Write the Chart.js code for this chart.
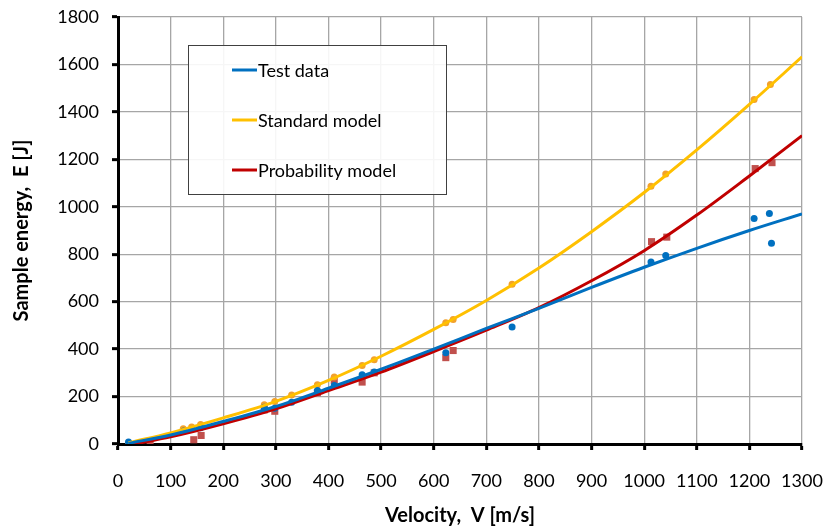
<!DOCTYPE html>
<html>
<head>
<meta charset="utf-8">
<script src="https://cdn.jsdelivr.net/npm/chart.js@4.4.1/dist/chart.umd.min.js"></script>
<style>
  body { margin: 0; background: #fff; }
  canvas { display: block; }
</style>
</head>
<body>
<canvas id="energyChart" width="829" height="528"></canvas>
<script>
/* global Chart */

const seriesNames = ["Test data", "Standard model", "Probability model"];
const seriesColors = ["#0070C0", "#FFC000", "#C00000"];
const pointColors = ["#0070C0", "#F2A12E", "#C0504D"];

// fitted curves
const testFitV = [20, 100, 200, 300, 400, 500, 600, 700, 800, 900, 1000, 1100, 1200, 1300];
const testFitE = [3, 38, 95, 158, 235, 315, 400, 487, 572, 660, 745, 825, 900, 970];
const stdFitV = [20, 100, 200, 300, 400, 500, 600, 700, 800, 900, 1000, 1100, 1200, 1300];
const stdFitE = [5, 47, 110, 180, 268, 370, 483, 605, 742, 895, 1060, 1240, 1432, 1632];
const probFitV = [30, 100, 200, 300, 400, 500, 600, 700, 800, 900, 1000, 1100, 1200, 1300];
const probFitE = [0, 30, 85, 148, 225, 303, 390, 480, 575, 688, 815, 965, 1130, 1300];

// measured / predicted points
const testV = [20, 125, 157, 278, 298, 330, 379, 411, 464, 487, 623, 749, 1013, 1041, 1209, 1238, 1242];
const testE = [8, 55, 68, 155, 151, 176, 226, 247, 292, 303, 385, 493, 767, 795, 951, 972, 846];
const stdV = [20, 124, 140, 157, 278, 298, 330, 379, 411, 464, 487, 623, 637, 749, 1013, 1041, 1209, 1240];
const stdE = [5, 64, 72, 82, 165, 179, 207, 250, 282, 331, 355, 511, 525, 673, 1087, 1138, 1452, 1515];
const probV = [40, 61, 144, 158, 278, 298, 379, 411, 464, 487, 623, 637, 1014, 1043, 1211, 1243];
const probE = [0, 0, 18, 36, 144, 138, 216, 268, 261, 300, 364, 394, 853, 872, 1161, 1186];

const xTicks = { min: 0, max: 1300, step: 100 };
const yTicks = { min: 0, max: 1800, step: 200 };

const toXY = (xs, ys) => xs.map((x, i) => ({ x: x, y: ys[i] }));
const FONT = "Lato, 'Open Sans', sans-serif";

const boxLegend = {
  id: "boxLegend",
  afterDatasetsDraw(chart) {
    const c = chart.ctx;
    c.save();
    c.fillStyle = "rgba(255,255,255,0.9)";
    c.fillRect(188, 45, 259, 149);
    c.strokeStyle = "#404040";
    c.lineWidth = 1;
    c.strokeRect(188.5, 45.5, 258, 149);
    c.font = "18px " + FONT;
    c.textBaseline = "middle";
    seriesNames.forEach((name, i) => {
      const y = 70 + i * 50;
      c.strokeStyle = seriesColors[i];
      c.lineWidth = 3;
      c.beginPath();
      c.moveTo(232, y);
      c.lineTo(257, y);
      c.stroke();
      c.fillStyle = "#000";
      c.fillText(name, 258, y + 1);
    });
    c.restore();
  },
};

const lineSet = (label, data, color) => ({
  type: "line",
  label: label,
  data: data,
  borderColor: color,
  borderWidth: 3,
  pointRadius: 0,
  fill: false,
  cubicInterpolationMode: "monotone",
  order: 1,
});

const pointSet = (label, data, color, style, r) => ({
  type: "scatter",
  label: label,
  data: data,
  backgroundColor: color,
  borderColor: color,
  borderWidth: 0,
  pointStyle: style,
  pointRadius: r,
  order: 2,
});

const plainNum = (v) => String(v);

new Chart(document.getElementById("energyChart"), {
  type: "scatter",
  data: {
    datasets: [
      pointSet(seriesNames[0] + " points", toXY(testV, testE), pointColors[0], "circle", 3.5),
      pointSet(seriesNames[1] + " points", toXY(stdV, stdE), pointColors[1], "circle", 3.5),
      pointSet(seriesNames[2] + " points", toXY(probV, probE), pointColors[2], "rect", 5),
      lineSet(seriesNames[0], toXY(testFitV, testFitE), seriesColors[0]),
      lineSet(seriesNames[1], toXY(stdFitV, stdFitE), seriesColors[1]),
      lineSet(seriesNames[2], toXY(probFitV, probFitE), seriesColors[2]),
    ],
  },
  options: {
    responsive: false,
    animation: false,
    layout: { padding: { top: 17, right: 27, left: 0, bottom: 0 } },
    plugins: {
      legend: { display: false },
      tooltip: { enabled: false },
    },
    scales: {
      x: {
        type: "linear",
        min: xTicks.min,
        max: xTicks.max,
        afterFit: (scale) => {
          scale.height = 84;
          scale.paddingLeft = 0;
          scale.paddingRight = 0;
        },
        ticks: {
          stepSize: xTicks.step,
          padding: 20,
          color: "#000",
          font: { family: FONT, size: 18 },
          maxRotation: 0,
          callback: plainNum,
        },
        grid: { color: "#A6A6A6", lineWidth: 1.3, tickColor: "#000", tickWidth: 3, tickLength: 6 },
        border: { color: "#000", width: 3 },
        title: {
          display: true,
          text: "Velocity,  V [m/s]",
          color: "#000",
          font: { family: FONT, size: 20, weight: "bold" },
          padding: { top: 0, bottom: 0 },
        },
      },
      y: {
        min: yTicks.min,
        max: yTicks.max,
        afterFit: (scale) => {
          scale.width = 118;
          scale.paddingTop = 0;
          scale.paddingBottom = 0;
        },
        ticks: {
          stepSize: yTicks.step,
          padding: 13,
          color: "#000",
          font: { family: FONT, size: 18 },
          callback: plainNum,
        },
        grid: { color: "#A6A6A6", lineWidth: 1.3, tickColor: "#000", tickWidth: 3, tickLength: 6 },
        border: { color: "#000", width: 3 },
        title: {
          display: true,
          text: "Sample energy,  E [J]",
          color: "#000",
          font: { family: FONT, size: 20, weight: "bold" },
          padding: { top: 10, bottom: 0 },
        },
      },
    },
  },
  plugins: [boxLegend],
});
</script>
</body>
</html>
